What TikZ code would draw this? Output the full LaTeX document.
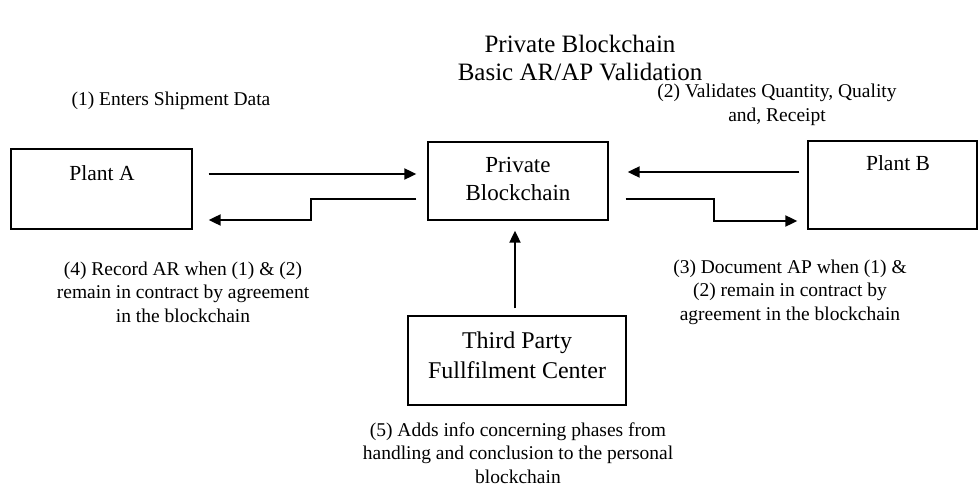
\documentclass[tikz,border=0pt]{standalone}
\usepackage{fontspec}
\setmainfont{Liberation Serif}
\usetikzlibrary{arrows.meta}
\tikzset{
  boxnode/.style={draw=black, line width=1.3pt, rectangle, inner sep=0pt},
  txt/.style={inner sep=0pt, align=center, font=\fontsize{19.5}{23.5}\selectfont},
  arr/.style={line width=1.9pt, -{Triangle[length=12pt,width=11pt]}},
}
\begin{document}
\begin{tikzpicture}[x=1pt,y=-1pt]
\useasboundingbox (0,0) rectangle (978,486);
% title
\node[inner sep=0pt, align=center, font=\fontsize{25}{28}\selectfont] (title) at (580,58) {Private Blockchain\\Basic AR/AP Validation};
% boxes
\node[boxnode, minimum width=181pt, minimum height=80pt] (plantA) at (101.5,189) {};
\node[boxnode, minimum width=180pt, minimum height=78pt] (pb) at (518,181) {};
\node[boxnode, minimum width=169pt, minimum height=88pt] (plantB) at (892.5,185) {};
\node[boxnode, minimum width=218pt, minimum height=89pt] (tp) at (517,360.5) {};
% box texts
\node[inner sep=0pt, font=\fontsize{21.5}{26}\selectfont] (plantAtxt) at (102,173) {Plant A};
\node[inner sep=0pt, font=\fontsize{21.5}{26}\selectfont] (plantBtxt) at (898,163) {Plant B};
\node[inner sep=0pt, align=center, font=\fontsize{23}{28}\selectfont] (pbtxt) at (518,179) {Private\\Blockchain};
\node[inner sep=0pt, align=center, font=\fontsize{24}{30}\selectfont] (tptxt) at (517,355) {Third Party\\Fullfilment Center};
% labels
\node[txt] (l1) at (171,101) {(1) Enters Shipment Data};
\node[txt] (l2) at (777,105) {(2) Validates Quantity, Quality\\and, Receipt};
\node[txt] (l4) at (183,292) {(4) Record AR when (1) \& (2)\\remain in contract by agreement\\in the blockchain};
\node[txt] (l3) at (790,292) {(3) Document AP when (1) \&\\(2) remain in contract by\\agreement in the blockchain};
\node[txt] (l5) at (518,453) {(5) Adds info concerning phases from\\handling and conclusion to the personal\\blockchain};
% connectors
\draw[arr] ([shift={(16,-15)}]plantA.east) -- ([shift={(-11,-7)}]pb.west);
\draw[arr] ([shift={(-11,18)}]pb.west) -- ++(-105,0) -- ++(0,21) -- ([shift={(16,31)}]plantA.east);
\draw[arr] ([shift={(-8,-13)}]plantB.west) -- ([shift={(19,-9)}]pb.east);
\draw[arr] ([shift={(17,18)}]pb.east) -- ++(88,0) -- ++(0,22) -- ([shift={(-10,36)}]plantB.west);
\draw[arr] ([shift={(-2,-7)}]tp.north) -- ([shift={(-3,10)}]pb.south);
\end{tikzpicture}
\end{document}
